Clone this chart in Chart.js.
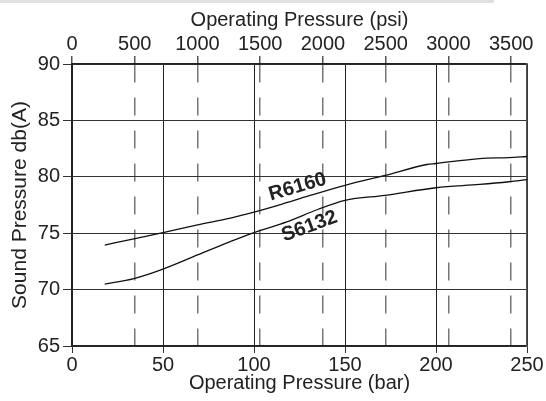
<!DOCTYPE html>
<html>
<head>
<meta charset="utf-8">
<script src="https://cdn.jsdelivr.net/npm/chart.js@4.4.0/dist/chart.umd.min.js"></script>
<style>
  html, body { margin: 0; padding: 0; background: #fff; }
  #wrap { position: relative; width: 546px; height: 401px; }
  #band { position: absolute; left: 0; top: 0; width: 494px; height: 3px; background: #e0e0e0; }
  canvas { display: block; }
</style>
</head>
<body>
<div id="wrap">
  <div id="band"></div>
  <canvas id="chart" width="546" height="401"></canvas>
</div>
<script>
// Curve R6160: pressure (bar) vs sound pressure db(A)
const r6160Bar = [18, 34, 50, 69, 87, 100, 115, 130, 150, 172, 195, 200, 224, 240, 250];
const r6160Db  = [73.95, 74.5, 75.06, 75.74, 76.34, 76.87, 77.56, 78.3, 79.24, 80.12, 81.09, 81.18, 81.62, 81.7, 81.8];

// Curve S6132
const s6132Bar = [18, 34, 50, 69, 87, 100, 118, 135, 150, 172, 200, 224, 240, 250];
const s6132Db  = [70.48, 70.98, 71.82, 73.07, 74.26, 75.06, 76.0, 77.1, 77.91, 78.35, 79.03, 79.32, 79.56, 79.75];

// Axis ranges and tick labels
const barTicks = [0, 50, 100, 150, 200, 250];
const psiTicks = [0, 500, 1000, 1500, 2000, 2500, 3000, 3500];
const dbTicks = [65, 70, 75, 80, 85, 90];
const psiPerBar = 14.5038;

// Curve names, placed at (bar, db) on the chart
const curveNames = ['R6160', 'S6132'];
const curveNameBar = [124, 130.5];
const curveNameDb = [79.1, 75.6];
const curveNameAngle = [-16, -20];

const FONT = '"Liberation Sans", Arial, Helvetica, sans-serif';
const INK = '#222';

function toPoints(xs, ys) {
  return xs.map((x, i) => ({ x: x, y: ys[i] }));
}

function fixedTicks(values) {
  return s => { s.ticks = values.map(v => ({ value: v })); };
}

// Draws the rotated curve names
const curveLabels = {
  id: 'curveLabels',
  afterDatasetsDraw(chart) {
    const { ctx, scales } = chart;
    ctx.save();
    ctx.fillStyle = INK;
    ctx.font = 'bold 20px ' + FONT;
    ctx.textAlign = 'center';
    ctx.textBaseline = 'middle';
    curveNames.forEach((name, i) => {
      const px = scales.x.getPixelForValue(curveNameBar[i]);
      const py = scales.y.getPixelForValue(curveNameDb[i]);
      ctx.save();
      ctx.translate(px, py);
      ctx.rotate(curveNameAngle[i] * Math.PI / 180);
      ctx.fillText(name, 0, 0);
      ctx.restore();
    });
    ctx.restore();
  }
};

const lineStyle = {
  borderColor: '#111',
  borderWidth: 1.3,
  pointRadius: 0,
  fill: false,
  cubicInterpolationMode: 'monotone',
  xAxisID: 'x',
  yAxisID: 'y'
};

const tickFont = { family: FONT, size: 20 };

new Chart(document.getElementById('chart'), {
  type: 'line',
  data: {
    datasets: [
      Object.assign({ label: 'R6160', data: toPoints(r6160Bar, r6160Db) }, lineStyle),
      Object.assign({ label: 'S6132', data: toPoints(s6132Bar, s6132Db) }, lineStyle)
    ]
  },
  options: {
    responsive: false,
    animation: false,
    layout: { padding: { left: 0, right: 19, top: 0, bottom: 0 } },
    plugins: {
      legend: { display: false },
      tooltip: { enabled: false }
    },
    scales: {
      x: {
        type: 'linear',
        position: 'bottom',
        min: barTicks[0],
        max: barTicks[barTicks.length - 1],
        afterBuildTicks: fixedTicks(barTicks),
        afterFit: s => { s.height = 55; },
        ticks: {
          autoSkip: false,
          padding: 0,
          color: INK,
          font: tickFont,
          maxRotation: 0,
          callback: v => String(v)
        },
        grid: { color: '#222', lineWidth: 1, tickLength: 7, tickColor: '#333' },
        border: { color: '#222', width: 1.5 },
        title: {
          display: true,
          text: 'Operating Pressure (bar)',
          color: INK,
          font: tickFont,
          padding: { top: 0, bottom: 6 }
        }
      },
      x2: {
        type: 'linear',
        position: 'top',
        min: barTicks[0] * psiPerBar,
        max: barTicks[barTicks.length - 1] * psiPerBar,
        afterBuildTicks: fixedTicks(psiTicks),
        afterFit: s => { s.height = 64; },
        ticks: {
          autoSkip: false,
          padding: 0,
          color: INK,
          font: tickFont,
          maxRotation: 0,
          callback: v => String(v)
        },
        grid: {
          color: ctx => (ctx.tick && ctx.tick.value === 0 ? 'rgba(0,0,0,0)' : '#777'),
          lineWidth: 1.5,
          tickLength: 8,
          tickColor: '#555',
          tickBorderDash: []
        },
        border: { color: '#222', width: 1.5, dash: [18, 15] },
        title: {
          display: true,
          text: 'Operating Pressure (psi)',
          color: INK,
          font: tickFont,
          padding: { top: 8, bottom: 0 }
        }
      },
      y: {
        type: 'linear',
        position: 'left',
        min: dbTicks[0],
        max: dbTicks[dbTicks.length - 1],
        afterBuildTicks: fixedTicks(dbTicks),
        afterFit: s => { s.width = 72; },
        ticks: {
          padding: 3,
          color: INK,
          font: tickFont
        },
        grid: { color: '#333', lineWidth: 1, tickLength: 9 },
        border: { color: '#222', width: 1.5 },
        title: {
          display: true,
          text: 'Sound Pressure db(A)',
          color: INK,
          font: { family: FONT, size: 21 },
          padding: { top: 8, bottom: 0 }
        }
      },
      y2: {
        type: 'linear',
        position: 'right',
        min: dbTicks[0],
        max: dbTicks[dbTicks.length - 1],
        afterFit: s => { s.width = 0; },
        ticks: { display: false },
        grid: { display: false, drawTicks: false },
        border: { display: true, color: '#555', width: 1.5 }
      }
    }
  },
  plugins: [curveLabels]
});
</script>
</body>
</html>
